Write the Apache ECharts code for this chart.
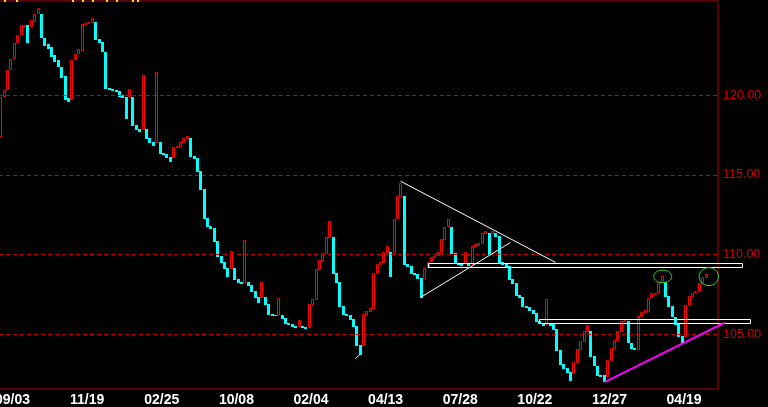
<!DOCTYPE html>
<html><head><meta charset="utf-8">
<script src="https://cdn.jsdelivr.net/npm/echarts@6/dist/echarts.min.js"></script>
<style>html,body{margin:0;padding:0;background:#000;}#c{width:768px;height:407px;}</style>
</head><body><div id="c"></div>
<script>
// Line-break boxes: open and close of each box (red = up, cyan = down)
const opens = [117.4,119.9,120.3,121.6,122.3,123.3,123.8,124.3,124.4,124.3,
124.6,125.1,125.1,123.6,123.2,123.0,122.5,122.2,121.8,121.2,
119.8,119.7,122.2,122.6,122.8,124.5,124.5,124.55,124.6,123.55,
123.35,122.7,120.45,120.4,120.35,120.25,120.0,119.9,119.9,119.9,
118.15,117.9,117.8,117.9,117.3,117.05,117.0,117.05,116.4,116.3,
116.15,116.05,116.75,116.75,117.0,117.25,117.3,116.2,116.05,115.25,
114.1,112.3,111.8,111.65,110.85,109.9,109.55,109.15,109.1,109.15,
108.45,108.3,108.2,108.3,108.1,107.7,107.35,107.25,107.35,106.9,
106.25,106.2,106.15,106.2,106.0,105.7,105.65,105.5,105.45,105.5,
105.45,105.4,106.85,107.15,109.05,109.6,110.05,111.05,111.1,108.85,
108.3,106.75,106.25,106.2,105.95,105.5,104.3,104.25,106.2,106.4,
106.6,108.8,109.35,109.45,110.1,110.15,110.1,112.2,113.6,113.7,
109.4,109.3,108.85,108.8,108.55,108.45,109.15,109.5,109.85,109.9,
110.1,110.9,111.7,111.75,110.1,109.42,109.4,109.4,109.4,109.35,
110.5,110.55,110.65,111.3,111.35,111.3,111.35,111.15,109.55,109.4,
109.3,108.45,108.2,107.45,107.35,106.75,106.7,106.5,106.35,105.85,
105.7,105.6,105.7,105.65,105.3,104.0,103.15,102.9,102.6,102.5,
103.2,104.0,104.5,105.15,105.2,103.6,103.0,102.45,102.45,102.3,
103.3,104.05,104.55,105.15,105.75,105.85,104.45,104.15,104.0,106.1,
106.35,106.4,107.25,107.5,107.6,108.2,108.3,107.4,106.75,106.1,
105.65,104.9,104.8,106.75,107.35,107.6,107.65,108.15,108.55];
const closes = [119.9,120.3,121.6,122.3,123.3,123.8,124.4,124.4,123.3,124.7,
125.1,125.5,123.6,123.1,122.9,122.4,122.1,121.8,121.1,119.7,
119.6,122.2,122.6,122.9,124.5,124.55,124.6,124.85,123.5,123.3,
122.7,120.4,120.35,120.25,120.2,119.9,119.85,118.5,120.4,118.05,
117.8,117.7,121.25,117.25,117.0,116.8,121.45,116.3,116.25,116.05,
115.8,116.75,116.8,117.05,117.3,117.45,116.15,116.0,115.2,114.05,
112.25,111.75,111.6,110.8,109.85,109.45,109.1,108.6,110.2,108.4,
108.2,108.15,110.9,108.05,107.65,107.25,106.95,108.3,106.85,106.2,
106.15,106.12,107.25,105.95,105.65,105.6,105.45,105.4,105.9,105.4,
105.3,106.9,107.2,109.1,109.65,110.1,111.1,112.1,108.8,108.2,
106.7,106.2,106.15,105.9,105.45,104.25,103.7,106.25,106.45,106.65,
108.85,109.4,109.55,110.15,110.55,108.6,112.25,113.7,114.5,109.35,
109.2,108.8,108.7,108.45,107.25,109.15,109.55,109.85,109.9,110.15,
111.0,111.75,112.25,110.05,109.4,109.35,109.3,110.15,109.3,110.55,
110.65,110.75,111.35,111.45,109.95,111.45,111.1,109.45,109.35,109.2,
108.4,108.15,107.4,107.25,106.7,106.65,106.45,106.25,105.75,105.65,
105.5,107.2,105.5,105.25,103.95,103.05,102.8,102.55,102.05,103.25,
104.05,104.55,105.2,105.6,103.55,103.0,102.35,102.3,102.0,103.4,
104.15,104.65,105.2,105.85,105.9,104.45,104.05,104.0,106.15,106.4,
106.5,107.25,107.6,107.6,108.3,108.65,107.35,106.7,106.1,105.6,
104.8,104.45,106.85,107.4,107.6,107.7,108.2,108.6,108.8];
const xLabels = ['09/03','11/19','02/25','10/08','02/04','04/13','07/28','10/22','12/27','04/19'];
const xLabelIdx = [4,26,48,70,92,114,136,158,180,202];
const yTicks = [105,110,115,120];
const yMin = 101.55, yMax = 125.92;
const nSlots = 212;
// hand-drawn annotations, in (box index, price)
const trendDown = [[117.9,114.6],[163.6,109.5]];
const trendUp = [[123.8,107.3],[150.3,110.75]];
const trendTiny = [[104.6,103.46],[105.8,103.69]];
const supportLine = [[178.1,101.98],[213.5,105.72]];
const zoneUpper = [126.1,218.8,109.47,109.19];
const zoneLower = [158.6,220.9,105.92,105.68];
const circleCenters = [[195.2,108.62],[208.8,108.61]];
const topMarks = [1.4,4.8,21.2,24.4,27.1,31.4,34.3,39.1,40.5];

const chart = echarts.init(document.getElementById('c'), null, {renderer:'canvas'});
const boxData = opens.map((o,i)=>[i,o,closes[i]]);

function renderBox(params, api){
  const i = api.value(0), o = api.value(1), c = api.value(2);
  const hi = Math.max(o,c), lo = Math.min(o,c);
  const pT = api.coord([i,hi]), pB = api.coord([i,lo]);
  const L = Math.round(pT[0]-1.5);
  let T = Math.round(pT[1]), B = Math.round(pB[1]);
  if (c >= o) {
    if (B - T < 2) B = T + 2;
    return {type:'rect', shape:{x:L+0.5,y:T+0.5,width:2,height:B-T-1},
      style:{fill:'#000',stroke:'#ff0000',lineWidth:1}};
  } else {
    if (B - T < 1) B = T + 1;
    return {type:'rect', shape:{x:L,y:T,width:3,height:B-T}, style:{fill:'#00ffff'}};
  }
}

function renderAnno(params, api){
  if (params.dataIndex !== 0) return;
  const els = [];
  function zone(z){
    const a = api.coord([z[0],z[2]]), b = api.coord([z[1],z[3]]);
    els.push({type:'rect', shape:{x:Math.round(a[0])+0.5,y:Math.round(a[1])+0.5,
      width:Math.round(b[0]-a[0]),height:Math.round(b[1]-a[1])},
      style:{fill:null,stroke:'#ffffff',lineWidth:1}});
  }
  zone(zoneUpper); zone(zoneLower);
  const rad = [[9,6.3],[9.7,9]];
  circleCenters.forEach((cc,k)=>{
    const p = api.coord(cc);
    els.push({type:'ellipse', shape:{cx:p[0],cy:p[1],rx:rad[k][0],ry:rad[k][1]},
      style:{fill:null,stroke:'#22dd22',lineWidth:1}});
  });
  function seg(s, color, w){
    const a = api.coord(s[0]), b = api.coord(s[1]);
    els.push({type:'line', shape:{x1:a[0],y1:a[1],x2:b[0],y2:b[1]}, style:{stroke:color,lineWidth:w}});
  }
  seg(trendDown,'#ffffff',1); seg(trendUp,'#ffffff',1); seg(trendTiny,'#ffffff',1);
  seg(supportLine,'#ff00ff',2);
  topMarks.forEach(m=>{
    const p = api.coord([m, yMax]);
    els.push({type:'rect', shape:{x:Math.round(p[0]-1),y:0,width:2,height:2}, style:{fill:'#ffee00'}});
  });
  return {type:'group', children:els};
}

chart.setOption({
  backgroundColor:'#000',
  animation:false,
  grid:{left:-1,right:50,top:1,bottom:18,containLabel:false,outerBoundsMode:'none',
    show:true,borderColor:'#b40000',borderWidth:1,backgroundColor:'transparent'},
  xAxis:{type:'value',min:-0.5,max:nSlots-0.5,
    axisLine:{show:false},axisTick:{show:false},splitLine:{show:false},
    axisLabel:{customValues:xLabelIdx.map(i=>i-0.5),
      formatter:v=>{const k=xLabelIdx.indexOf(Math.round(v+0.5));return k>=0?xLabels[k]:'';},
      color:'#ffffff',fontWeight:'bold',fontSize:14,fontFamily:'Liberation Sans, Arial, sans-serif',margin:4}},
  yAxis:{type:'value',min:yMin,max:yMax,position:'right',
    axisLine:{show:false},axisTick:{show:false},axisLabel:{show:false},splitLine:{show:false}},
  series:[
    {type:'custom',renderItem:renderBox,data:boxData,clip:true,
     markLine:{silent:true,symbol:'none',animation:false,
       lineStyle:{color:'#cc0000',type:[4,3],width:1},
       label:{position:'end',distance:5,color:'#cc0000',formatter:p=>Number(p.value).toFixed(2),
         fontSize:12.5,fontFamily:"'Liberation Sans', Arial, sans-serif"},
       emphasis:{disabled:true},
       data:yTicks.map(v=>({yAxis:v}))}},
    {type:'custom',renderItem:renderAnno,data:[[0,110]],clip:false,z:5}
  ]
});
</script></body></html>
